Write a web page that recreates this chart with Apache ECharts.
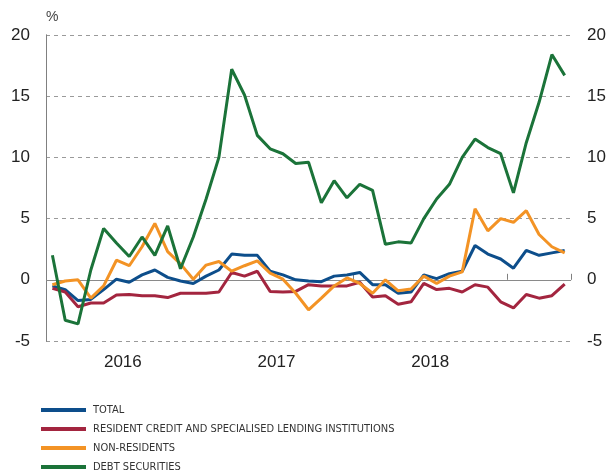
<!DOCTYPE html>
<html>
<head>
<meta charset="utf-8">
<script src="https://cdn.jsdelivr.net/npm/echarts@6/dist/echarts.min.js"></script>
<style>
  html, body { margin: 0; padding: 0; background: #fff; }
  #chart { width: 609px; height: 473px; }
</style>
</head>
<body>
<div id="chart"></div>
<script>
// monthly data, Jan 2016 - May 2019 (% growth)
var years = ['2016', '2017', '2018'];

var total = [-0.5, -0.8, -1.7, -1.6, -0.8, 0.05, -0.2, 0.4, 0.8, 0.2,
    -0.1, -0.3, 0.3, 0.8, 2.1, 2.0, 2.0, 0.7, 0.4, 0.0,
    -0.1, -0.15, 0.3, 0.4, 0.6, -0.4, -0.4, -1.1, -1.0, 0.4,
    0.1, 0.5, 0.7, 2.8, 2.1, 1.7, 0.95, 2.4, 2.0, 2.2, 2.4];

var resident = [-0.7, -1.0, -2.2, -1.9, -1.9, -1.25, -1.2, -1.3, -1.3, -1.45,
    -1.1, -1.1, -1.1, -1.0, 0.6, 0.3, 0.7, -0.95, -1.0, -0.95,
    -0.4, -0.5, -0.5, -0.5, -0.2, -1.4, -1.3, -2.0, -1.8, -0.3,
    -0.8, -0.7, -1.0, -0.4, -0.6, -1.8, -2.3, -1.2, -1.5, -1.3, -0.35];

var nonResidents = [-0.4, -0.1, 0.0, -1.5, -0.5, 1.6, 1.15, 2.7, 4.6, 2.3,
    1.3, 0.05, 1.2, 1.5, 0.7, 1.15, 1.55, 0.55, 0.05, -1.1,
    -2.45, -1.5, -0.5, 0.15, -0.3, -1.1, 0.0, -0.9, -0.75, 0.3,
    -0.3, 0.3, 0.65, 5.8, 4.0, 5.0, 4.7, 5.65, 3.7, 2.7, 2.2];

var debtSecurities = [2.0, -3.3, -3.6, 0.8, 4.2, 3.0, 1.9, 3.5, 2.0, 4.4,
    0.9, 3.5, 6.6, 10.0, 17.2, 15.1, 11.8, 10.7, 10.3, 9.5,
    9.6, 6.3, 8.1, 6.7, 7.8, 7.3, 2.9, 3.1, 3.0, 5.0,
    6.6, 7.8, 10.0, 11.5, 10.8, 10.3, 7.1, 11.2, 14.5, 18.4, 16.7];

var seriesNames = ['TOTAL', 'RESIDENT CREDIT AND SPECIALISED LENDING INSTITUTIONS', 'NON-RESIDENTS', 'DEBT SECURITIES'];
var seriesColors = ['#0d4e8b', '#a3253f', '#f39325', '#1b7339'];
var seriesData = [total, resident, nonResidents, debtSecurities];

var nMonths = total.length;

function toPoints(arr) {
    return arr.map(function(v, i) { return [i + 0.5, v]; });
}

var chart = echarts.init(document.getElementById('chart'));

var seriesArr = seriesData.map(function(arr, k) {
    var s = {
        name: seriesNames[k],
        type: 'line',
        xAxisIndex: 0,
        yAxisIndex: 0,
        data: toPoints(arr),
        symbol: 'none',
        color: seriesColors[k],
        lineStyle: { width: 3, color: seriesColors[k] },
        z: 3 + k
    };
    if (k == 0) {
        // solid zero line
        s.markLine = {
            silent: true,
            symbol: 'none',
            label: { show: false },
            lineStyle: { type: 'solid', color: '#8a8a8a', width: 1 },
            data: [{ yAxis: 0 }],
            z: 1
        };
    }
    return s;
});

var yAxisBase = {
    type: 'value',
    min: -5,
    max: 20,
    interval: 5,
    axisLine: { show: true, lineStyle: { color: '#808080', width: 1 } },
    axisTick: { show: false },
    axisLabel: { fontSize: 17, color: '#222', fontFamily: 'Liberation Sans, Arial, sans-serif', margin: 16 }
};

var option = {
    animation: false,
    grid: { left: 46, right: 27, top: 35, bottom: 132 },
    title: {
        text: '%',
        left: 41,
        top: 5,
        textStyle: { fontSize: 14, fontWeight: 'normal', color: '#444', fontFamily: 'Liberation Sans, Arial, sans-serif' }
    },
    legend: {
        orient: 'vertical',
        left: 41,
        top: 403,
        padding: 0,
        height: 80,
        itemWidth: 45,
        itemHeight: 4,
        itemGap: 5,
        icon: 'rect',
        data: seriesNames,
        textStyle: {
            fontSize: 11,
            lineHeight: 14,
            color: '#333',
            fontFamily: "'Liberation Sans Narrow', 'DejaVu Sans Condensed', sans-serif",
            padding: [0, 0, 0, 2]
        }
    },
    xAxis: [{
        type: 'value',
        min: 0,
        max: nMonths,
        interval: 12,
        position: 'bottom',
        axisLine: { show: false },
        axisTick: { show: true, inside: true, length: 6, lineStyle: { color: '#808080' } },
        axisLabel: { show: false },
        splitLine: { show: false }
    }, {
        type: 'value',
        min: 0,
        max: nMonths,
        interval: 6,
        position: 'bottom',
        axisLine: { show: false },
        axisTick: { show: false },
        splitLine: { show: false },
        axisLabel: {
            fontSize: 17,
            color: '#222',
            margin: 13,
            fontFamily: 'Liberation Sans, Arial, sans-serif',
            formatter: function(v) {
                if (v % 12 === 6) return years[(v - 6) / 12] || '';
                return '';
            }
        }
    }],
    yAxis: [Object.assign({}, yAxisBase, {
        position: 'left',
        splitLine: { show: true, lineStyle: { type: [4, 4], color: '#9a9a9a', width: 1 } }
    }), Object.assign({}, yAxisBase, {
        position: 'right',
        splitLine: { show: false }
    })],
    series: seriesArr
};

chart.setOption(option);
</script>
</body>
</html>
